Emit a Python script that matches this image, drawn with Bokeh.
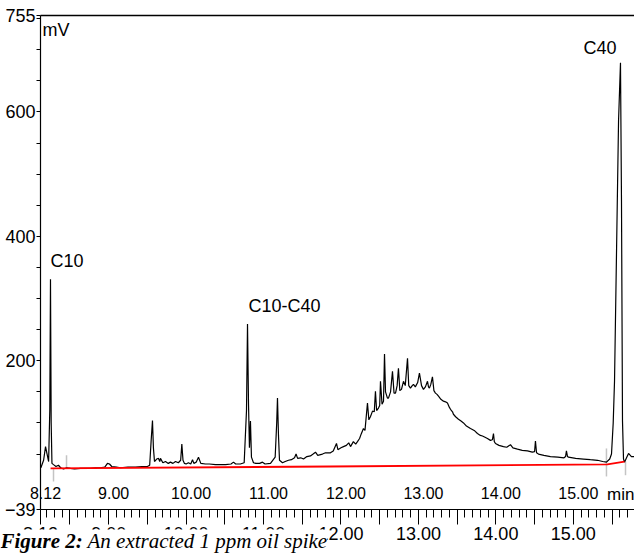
from bokeh.plotting import figure
from bokeh.models import FixedTicker, Label, Range1d
from bokeh.core.properties import value
from bokeh.embed import file_html
from bokeh.resources import INLINE

# ---- data ----
trace_t = [8.125, 8.16, 8.185, 8.205, 8.225, 8.240, 8.249, 8.258, 8.268, 8.288,
           8.32, 8.352, 8.38, 8.417, 8.46, 8.507, 8.56, 8.636, 8.70, 8.766,
           8.83, 8.895, 8.95, 8.985, 9.011, 9.04, 9.10, 9.153, 9.25, 9.347,
           9.43, 9.50, 9.53, 9.548, 9.566, 9.578, 9.592, 9.62, 9.644, 9.66,
           9.669, 9.70, 9.734, 9.77, 9.798, 9.83, 9.863, 9.90, 9.930, 9.945,
           9.960, 9.979, 10.00, 10.03, 10.06, 10.083, 10.10, 10.13, 10.160, 10.19,
           10.25, 10.30, 10.38, 10.45, 10.509, 10.58, 10.612, 10.64, 10.70, 10.75,
           10.780, 10.793, 10.806, 10.818, 10.831, 10.844, 10.870, 10.90, 10.95, 10.986,
           11.02, 11.09, 11.15, 11.17, 11.180, 11.193, 11.206, 11.245, 11.28, 11.322,
           11.36, 11.40, 11.42, 11.44, 11.48, 11.516, 11.56, 11.606, 11.64, 11.671,
           11.70, 11.761, 11.80, 11.864, 11.90, 11.942, 11.96, 12.00, 12.032, 12.07,
           12.10, 12.123, 12.16, 12.19, 12.213, 12.24, 12.26, 12.290, 12.31, 12.342,
           12.36, 12.38, 12.407, 12.43, 12.445, 12.46, 12.484, 12.50, 12.510, 12.53,
           12.549, 12.562, 12.575, 12.60, 12.613, 12.64, 12.665, 12.685, 12.704, 12.725,
           12.742, 12.76, 12.781, 12.807, 12.83, 12.859, 12.875, 12.897, 12.92, 12.936,
           12.96, 12.99, 13.013, 13.04, 13.065, 13.09, 13.117, 13.13, 13.142, 13.16,
           13.181, 13.20, 13.220, 13.24, 13.259, 13.29, 13.323, 13.35, 13.375, 13.40,
           13.414, 13.44, 13.452, 13.48, 13.517, 13.55, 13.582, 13.62, 13.672, 13.72,
           13.762, 13.80, 13.827, 13.86, 13.891, 13.93, 13.955, 13.969, 13.98, 13.995,
           14.04, 14.098, 14.14, 14.188, 14.22, 14.279, 14.34, 14.408, 14.47, 14.50,
           14.511, 14.525, 14.550, 14.62, 14.705, 14.80, 14.88, 14.90, 14.911, 14.925,
           14.937, 15.03, 15.131, 15.22, 15.312, 15.38, 15.428, 15.47, 15.493, 15.515,
           15.532, 15.558, 15.584, 15.609, 15.622, 15.635, 15.648, 15.661, 15.69, 15.713,
           15.75, 15.79]
trace_mv = [28, 40, 62, 50, 38, 120, 331, 100, 35, 33,
            30, 32, 28, 26, 28, 27, 26, 27, 27, 27,
            28, 28, 29, 35, 34, 30, 29, 28, 29, 29,
            30, 30, 32, 70, 104, 60, 38, 42, 43, 38,
            43, 36, 38, 35, 37, 35, 38, 36, 40, 66,
            40, 35, 34, 36, 34, 41, 35, 37, 45, 35,
            34, 34, 33, 33, 33, 34, 37, 34, 34, 36,
            120, 259, 130, 60, 103, 45, 36, 35, 35, 37,
            34, 35, 45, 100, 140, 80, 40, 36, 38, 40,
            41, 44, 50, 43, 44, 42, 46, 47, 50, 53,
            48, 50, 52, 52, 55, 67, 57, 60, 62, 64,
            68, 62, 70, 66, 70, 75, 82, 91, 88, 132,
            105, 110, 119, 118, 151, 120, 124, 128, 167, 130,
            135, 211, 150, 140, 140, 150, 183, 148, 148, 160,
            188, 152, 154, 167, 160, 204, 160, 156, 160, 162,
            158, 165, 180, 160, 154, 158, 167, 158, 156, 162,
            174, 152, 148, 146, 143, 138, 135, 134, 132, 125,
            122, 118, 114, 110, 106, 103, 100, 95, 91, 88,
            83, 80, 79, 77, 75, 72, 73, 83, 70, 67,
            64, 62, 61, 65, 60, 58, 56, 55, 53, 54,
            71, 52, 50, 48, 46, 45, 44, 46, 55, 46,
            45, 43, 42, 41, 40, 38, 37, 42, 50, 100,
            167, 376, 586, 679, 457, 103, 42, 37, 45, 51,
            46, 46]

baseline_t = [8.25, 11.86, 15.44, 15.66]
baseline_mv = [27, 30, 33.5, 38]

marker_t = [8.288, 8.456, 15.428, 15.674]
marker_lo = [6, 27, 14, 16]
marker_hi = [27, 48, 59, 38]

peak_names = ["C10", "C10-C40", "C40"]
peak_t = [8.249, 10.806, 15.131]
peak_mv = [360, 288, 703]

x_label_ticks = [8.12, 9, 10, 11, 12, 13, 14, 15]
x_tick_labels = ["8.12", "9.00", "10.00", "11.00", "12.00", "13.00", "14.00", "15.00"]
x_half_ticks = [8.5, 9.5, 10.5, 11.5, 12.5, 13.5, 14.5, 15.5]
y_label_ticks = [-39, 200, 400, 600, 755]
y_minor_ticks = [50, 100, 150, 250, 300, 350, 450, 500, 550, 650, 700, 750]

caption_bold = "Figure 2:"
caption_rest = "An extracted 1 ppm oil spike"

# ---- axis extents ----
T_START, T_END = 8.12, 15.79       # time axis extent (min)
MV_START, MV_END = -39, 755        # signal axis extent (mV)
PX_PER_MIN = 77.45
MV_PER_PX = 1.6106
X_LEFT = T_START - 40 / PX_PER_MIN          # 40 px room for the mV labels
Y_BOTTOM = MV_START - 44 * MV_PER_PX         # 44 px room under the time axis
Y_TOP = MV_END + 15 * MV_PER_PX              # 15 px room above the top border
upper_row_mv = -12
caption_mv = MV_START - 32 * MV_PER_PX
caption_rest_t = X_LEFT + 87 / PX_PER_MIN

FONT = "Liberation Sans"

p = figure(width=634, height=553,
           x_range=Range1d(X_LEFT, T_END), y_range=Range1d(Y_BOTTOM, Y_TOP),
           output_backend="svg", toolbar_location=None,
           min_border_left=0, min_border_right=0,
           min_border_top=0, min_border_bottom=0)
p.grid.visible = False
p.outline_line_color = None
p.background_fill_color = "white"
p.border_fill_color = "white"

# x axis, placed at -39 mV inside the frame
xa = p.xaxis[0]
xa.fixed_location = MV_START
xa.bounds = (T_START, T_END)
xa.ticker = FixedTicker(ticks=x_label_ticks + x_half_ticks,
                        minor_ticks=[round(8.2 + 0.1 * i, 1) for i in range(76)])
overrides = {t: l for t, l in zip(x_label_ticks, x_tick_labels)}
overrides.update({t: "" for t in x_half_ticks})
xa.major_label_overrides = overrides
xa.major_tick_out = 15
xa.major_tick_in = 0
xa.minor_tick_out = 8
xa.minor_tick_in = 0
xa.major_label_standoff = 3
xa.major_label_text_font = FONT
xa.major_label_text_font_size = "18px"
xa.major_label_text_color = "black"
xa.axis_line_color = "black"
xa.major_tick_line_color = "black"
xa.minor_tick_line_color = "black"
xa.axis_line_width = 1.2

# y axis, placed at 8.12 min inside the frame
ya = p.yaxis[0]
ya.fixed_location = T_START
ya.bounds = (MV_START, MV_END)
ya.ticker = FixedTicker(ticks=y_label_ticks, minor_ticks=y_minor_ticks)
ya.major_tick_out = 4
ya.major_tick_in = 0
ya.minor_tick_out = 4
ya.minor_tick_in = 0
ya.major_label_standoff = 1
ya.major_label_text_font = FONT
ya.major_label_text_font_size = "18px"
ya.major_label_text_color = "black"
ya.axis_line_color = "black"
ya.major_tick_line_color = "black"
ya.minor_tick_line_color = "black"
ya.axis_line_width = 1.2

# top border
p.segment(x0=[T_START], y0=[MV_END], x1=[T_END], y1=[MV_END],
          line_color="black", line_width=1.5)

# integration markers
p.segment(x0=marker_t, y0=marker_lo, x1=marker_t, y1=marker_hi,
          line_color="#c4c4c4", line_width=1.5)

# chromatogram trace
p.line(trace_t, trace_mv, line_color="black", line_width=1.2)

# baseline
p.line(baseline_t, baseline_mv, line_color="#ff0000", line_width=1.8)

# upper row of time labels
p.text(x=x_label_ticks, y=[upper_row_mv] * len(x_label_ticks), text=x_tick_labels,
       text_align="center", text_baseline="middle", x_offset=5,
       text_font=value(FONT), text_font_size="16px", text_color="black")
p.add_layout(Label(x=T_END, y=-15, text="min", text_align="right", text_baseline="middle",
                   text_font=FONT, text_font_size="17px", text_color="black"))

# peak labels
p.text(x=peak_t, y=peak_mv, text=peak_names, text_align="left", text_baseline="middle",
       text_font=value(FONT), text_font_size="18px", text_color="black")

p.add_layout(Label(x=8.146, y=731, text="mV", text_align="left", text_baseline="middle",
                   text_font=FONT, text_font_size="18px", text_color="black"))

# caption
p.add_layout(Label(x=X_LEFT, y=caption_mv, text=caption_bold, text_align="left",
                   text_baseline="alphabetic", text_font="Liberation Serif",
                   text_font_style="bold italic", text_font_size="21px",
                   text_color="black", background_fill_color="white"))
p.add_layout(Label(x=caption_rest_t, y=caption_mv, text=caption_rest, text_align="left",
                   text_baseline="alphabetic", text_font="Liberation Serif",
                   text_font_style="italic", text_font_size="21px",
                   text_color="black", background_fill_color="white"))

open("out.html", "w").write(file_html(p, INLINE))
